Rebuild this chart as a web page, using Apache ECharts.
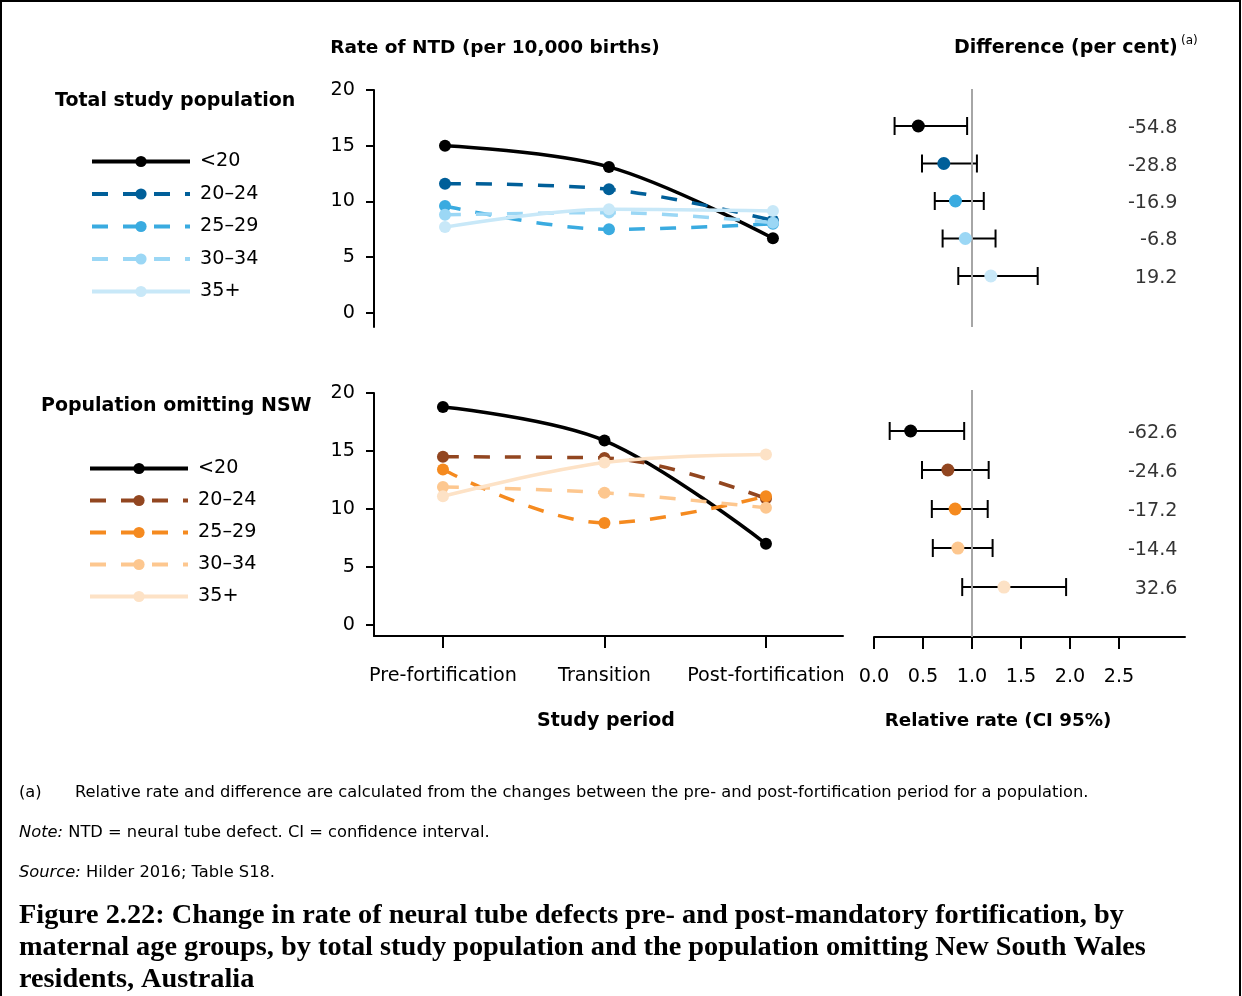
<!DOCTYPE html>
<html><head><meta charset="utf-8">
<script src="https://cdn.jsdelivr.net/npm/echarts@6/dist/echarts.min.js"></script>
<style>html,body{margin:0;padding:0;background:#fff}#c{width:1242px;height:996px}</style>
</head><body><div id="c"></div>
<script>
// ---------- DATA ----------
const periods = ['Pre-fortification', 'Transition', 'Post-fortification'];
const ageGroups = ['<20', '20–24', '25–29', '30–34', '35+'];
const yTicks = [0, 5, 10, 15, 20];
const rrTicks = [0, 0.5, 1, 1.5, 2, 2.5];

// Rate of NTD per 10,000 births — total study population
const totU20 = [15.0, 13.1, 6.7];
const tot2024 = [11.6, 11.1, 8.3];
const tot2529 = [9.6, 7.5, 8.0];
const tot3034 = [8.8, 9.0, 8.1];
const tot35p = [7.7, 9.3, 9.15];

// Rate of NTD per 10,000 births — population omitting NSW
const nswU20 = [18.8, 15.9, 7.0];
const nsw2024 = [14.5, 14.4, 10.9];
const nsw2529 = [13.4, 8.8, 11.1];
const nsw3034 = [11.9, 11.4, 10.1];
const nsw35p = [11.1, 14.0, 14.7];

// Relative rate (CI 95%) and difference (per cent)
const totRR = [0.452, 0.712, 0.831, 0.932, 1.192];
const totLow = [0.21, 0.49, 0.62, 0.70, 0.86];
const totHigh = [0.95, 1.05, 1.12, 1.24, 1.67];
const totDiff = [-54.8, -28.8, -16.9, -6.8, 19.2];

const nswRR = [0.374, 0.754, 0.828, 0.856, 1.326];
const nswLow = [0.16, 0.49, 0.59, 0.60, 0.90];
const nswHigh = [0.92, 1.17, 1.16, 1.21, 1.96];
const nswDiff = [-62.6, -24.6, -17.2, -14.4, 32.6];

// ---------- STYLE ----------
const blueColors = ['#000000', '#005f99', '#3aabe0', '#9bd7f5', '#c8e8f8'];
const orangeColors = ['#000000', '#924620', '#f58a1f', '#fdc78f', '#fde2c6'];
const dashedFlags = [false, true, true, true, false];
const SANS = '"DejaVu Sans", sans-serif';
const BOLD = '"DejaVu Sans", sans-serif';
const SERIF = '"Liberation Serif", serif';
const LBL = 19.2;

const totalSeriesData = [totU20, tot2024, tot2529, tot3034, tot35p];
const nswSeriesData = [nswU20, nsw2024, nsw2529, nsw3034, nsw35p];

function lineSeries(name, values, color, dashed, idx) {
  return {
    type: 'line', name: name, xAxisIndex: idx, yAxisIndex: idx,
    data: values.map((v, i) => [i, v]),
    smooth: 0.35, symbol: 'circle', symbolSize: 12, showSymbol: true,
    lineStyle: { color: color, width: 3.5, type: dashed ? [16, 15] : 'solid' },
    itemStyle: { color: color, opacity: 1 },
    emphasis: { disabled: true }, silent: true, z: 2
  };
}

const series = [];
ageGroups.forEach((g, i) => series.push(lineSeries(g, totalSeriesData[i], blueColors[i], dashedFlags[i], 0)));
ageGroups.forEach((g, i) => series.push(lineSeries('NSW ' + g, nswSeriesData[i], orangeColors[i], dashedFlags[i], 1)));

function errorBarSeries(low, high, idx) {
  return {
    type: 'custom', xAxisIndex: idx, yAxisIndex: idx, silent: true, z: 2,
    data: low.map((l, i) => [l, high[i], i]),
    encode: { x: [0, 1], y: 2 },
    renderItem: function (params, api) {
      const a = api.coord([api.value(0), api.value(2)]);
      const b = api.coord([api.value(1), api.value(2)]);
      const h = 9;
      const st = { stroke: '#000', lineWidth: 2 };
      return {
        type: 'group', children: [
          { type: 'line', shape: { x1: a[0], y1: a[1], x2: b[0], y2: b[1] }, style: st },
          { type: 'line', shape: { x1: a[0], y1: a[1] - h, x2: a[0], y2: a[1] + h }, style: st },
          { type: 'line', shape: { x1: b[0], y1: b[1] - h, x2: b[0], y2: b[1] + h }, style: st }
        ]
      };
    }
  };
}
function pointSeries(rr, colors, idx) {
  return {
    type: 'scatter', xAxisIndex: idx, yAxisIndex: idx, silent: true, z: 5,
    symbol: 'circle', symbolSize: 13,
    data: rr.map((v, i) => ({ value: [v, i], itemStyle: { color: colors[i], opacity: 1 } }))
  };
}
function diffSeries(diff, idx) {
  return {
    type: 'scatter', xAxisIndex: idx, yAxisIndex: idx, silent: true, z: 3,
    symbol: 'circle', symbolSize: 1, itemStyle: { color: 'rgba(0,0,0,0)' },
    data: diff.map((d, i) => ({ name: d.toFixed(1), value: [3.102, i] })),
    label: { show: true, position: 'left', distance: 0, offset: [0, 2], formatter: '{b}', fontSize: LBL, fontFamily: SANS, color: '#000' },
    markLine: {
      silent: true, symbol: 'none', label: { show: false },
      lineStyle: { color: '#a6a6a6', width: 2, type: 'solid' },
      data: [{ xAxis: 1 }], animation: false
    }
  };
}
series.push(errorBarSeries(totLow, totHigh, 2), diffSeries(totDiff, 2), pointSeries(totRR, blueColors, 2));
series.push(errorBarSeries(nswLow, nswHigh, 3), diffSeries(nswDiff, 3), pointSeries(nswRR, orangeColors, 3));

const axisBlack = { show: true, onZero: false, lineStyle: { color: '#000', width: 2 } };

function rateYAxis(idx, min) {
  return {
    type: 'value', gridIndex: idx, min: min, max: 20,
    axisLine: axisBlack,
    axisTick: { show: true, customValues: yTicks, length: 8, lineStyle: { color: '#000', width: 2 } },
    axisLabel: { customValues: yTicks, fontSize: LBL, fontFamily: SANS, color: '#000', margin: 19, lineHeight: 24, padding: [5, 0, 0, 0] },
    splitLine: { show: false }
  };
}

function txt(text, x, y, font, align) {
  return { type: 'text', silent: true, style: { text: text, x: x, y: y, align: align || 'left', verticalAlign: 'middle', font: font, fill: '#000' } };
}
function richTxt(label, rest, x, y) {
  return { type: 'text', silent: true, style: { text: '{i|' + label + '}{n| ' + rest + '}', x: x, y: y, align: 'left', verticalAlign: 'middle',
    rich: { i: { fontStyle: 'italic', fontSize: 16.3, fontFamily: SANS, fill: '#000' }, n: { fontSize: 16.3, fontFamily: SANS, fill: '#000' } } } };
}

const legendText = { fontSize: LBL, fontFamily: SANS, color: '#000', lineHeight: 14, padding: [3, 0, 0, 5] };

const option = {
  animation: false,
  backgroundColor: '#fff',
  grid: [
    { left: 374, top: 90, width: 476, height: 237 },
    { left: 374, top: 393, width: 469, height: 243 },
    { left: 874, top: 89, width: 311, height: 238 },
    { left: 874, top: 390, width: 311, height: 247 }
  ],
  xAxis: [
    { type: 'value', gridIndex: 0, min: -0.433, max: 2.47, show: false },
    {
      type: 'value', gridIndex: 1, min: -0.427, max: 2.477,
      axisLine: axisBlack,
      axisTick: { show: true, customValues: [0, 1, 2], length: 12, lineStyle: { color: '#000', width: 2 } },
      axisLabel: { customValues: [0, 1, 2], formatter: v => periods[v], fontSize: LBL, fontFamily: SANS, color: '#000', margin: 31 },
      splitLine: { show: false }
    },
    { type: 'value', gridIndex: 2, min: 0, max: 3.173, show: false },
    {
      type: 'value', gridIndex: 3, min: 0, max: 3.173,
      axisLine: axisBlack,
      axisTick: { show: true, customValues: rrTicks, length: 12, lineStyle: { color: '#000', width: 2 } },
      axisLabel: { customValues: rrTicks, formatter: v => v.toFixed(1), fontSize: LBL, fontFamily: SANS, color: '#000', margin: 31 },
      splitLine: { show: false }
    }
  ],
  yAxis: [
    rateYAxis(0, -1.26),
    rateYAxis(1, -0.95),
    { type: 'value', gridIndex: 2, min: -0.987, max: 5.36, inverse: true, show: false },
    { type: 'value', gridIndex: 3, min: -1.05, max: 5.28, inverse: true, show: false }
  ],
  legend: [
    {
      data: ageGroups.slice(), orient: 'vertical', left: 90, top: 152, padding: 0,
      itemWidth: 98, itemHeight: 14, itemGap: 13.5, selectedMode: false,
      lineStyle: { width: 4 },
      textStyle: legendText
    },
    {
      data: ageGroups.map(g => 'NSW ' + g), orient: 'vertical', left: 88, top: 459, padding: 0,
      itemWidth: 98, itemHeight: 14, itemGap: 13, selectedMode: false,
      lineStyle: { width: 4 },
      formatter: n => n.replace(/^NSW /, ''),
      textStyle: legendText
    }
  ],
  graphic: [
    { type: 'rect', silent: true, shape: { x: 1, y: 1, width: 1239, height: 1010 }, style: { fill: 'none', stroke: '#000', lineWidth: 2 } },
    txt('Rate of NTD (per 10,000 births)', 495, 48, 'bold 18.5px ' + BOLD, 'center'),
    txt('Difference (per cent)', 954, 48, 'bold 19px ' + BOLD),
    txt('(a)', 1181, 41, '12px ' + SANS),
    txt('Total study population', 55, 101, 'bold 19px ' + BOLD),
    txt('Population omitting NSW', 41, 406, 'bold 19px ' + BOLD),
    txt('Study period', 606, 721, 'bold 19px ' + BOLD, 'center'),
    txt('Relative rate (CI 95%)', 998, 721, 'bold 18.3px ' + BOLD, 'center'),
    txt('(a)', 19, 793, '16.3px ' + SANS),
    txt('Relative rate and difference are calculated from the changes between the pre- and post-fortification period for a population.', 75, 793, '16.3px ' + SANS),
    richTxt('Note:', 'NTD = neural tube defect. CI = confidence interval.', 19, 833),
    richTxt('Source:', 'Hilder 2016; Table S18.', 19, 873),
    txt('Figure 2.22: Change in rate of neural tube defects pre- and post-mandatory fortification, by', 19, 916, 'bold 28.3px ' + SERIF),
    txt('maternal age groups, by total study population and the population omitting New South Wales', 19, 948, 'bold 28.3px ' + SERIF),
    txt('residents, Australia', 19, 980, 'bold 28.3px ' + SERIF)
  ],
  series: series
};

const chart = echarts.init(document.getElementById('c'), null, { renderer: 'canvas' });
chart.setOption(option);
</script>
</body></html>
